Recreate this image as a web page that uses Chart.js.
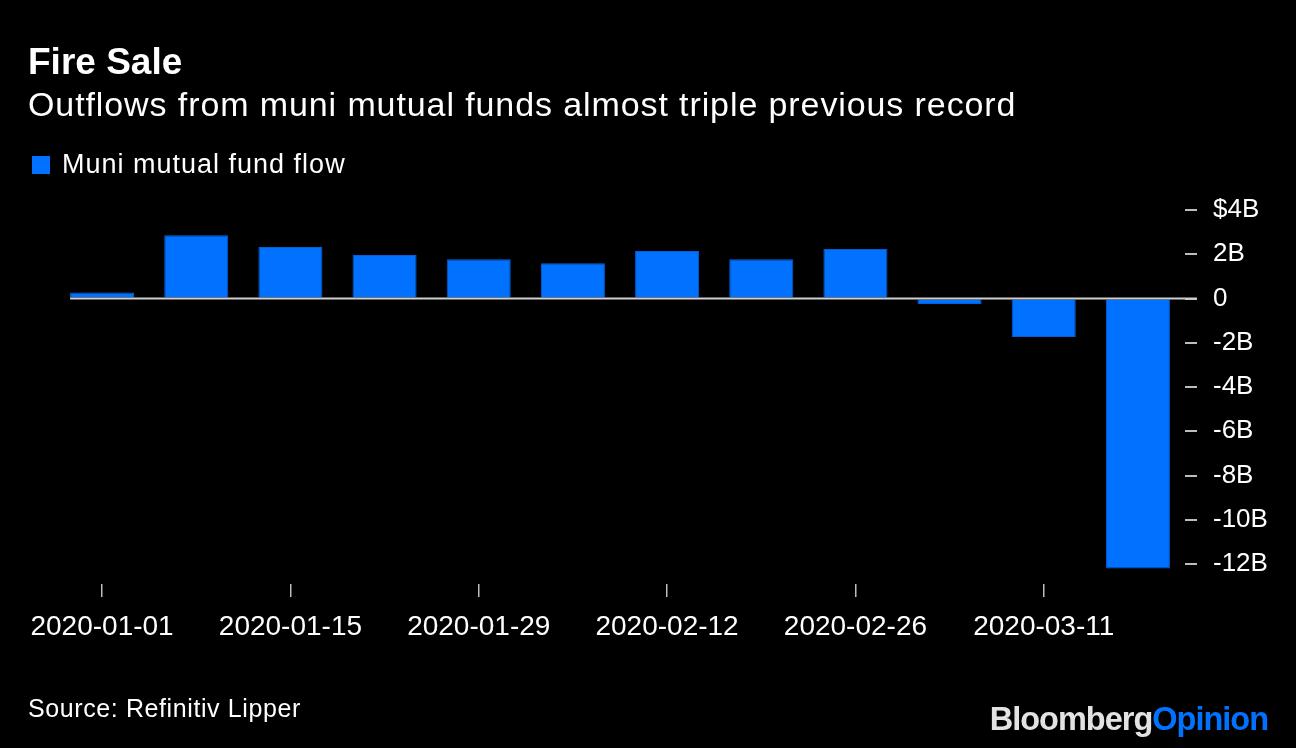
<!DOCTYPE html>
<html>
<head>
<meta charset="utf-8">
<script src="https://cdn.jsdelivr.net/npm/chart.js@4.4.0/dist/chart.umd.min.js"></script>
<style>
  html, body { margin: 0; padding: 0; background: #000; }
  body { width: 1296px; height: 748px; position: relative; overflow: hidden; font-family: "Liberation Sans", Arial, sans-serif; color: #fff; }
  #chart-wrap { position: absolute; left: 0; top: 0; width: 1296px; height: 748px; }
  .titulo { position: absolute; left: 28px; top: 40px; font-size: 37px; font-weight: bold; line-height: 44px; }
  .subtitulo { position: absolute; left: 28px; top: 84px; font-size: 34px; line-height: 40px; letter-spacing: 0.9px; }
  .legenda { position: absolute; left: 32px; top: 148px; font-size: 27px; line-height: 32px; letter-spacing: 1px; }
  .legenda .caixa { display: inline-block; width: 18px; height: 18px; background: #0072ff; margin-right: 12px; vertical-align: -1px; }
  .fonte { position: absolute; left: 28px; top: 693px; font-size: 25px; line-height: 30px; letter-spacing: 0.6px; }
  .logo { position: absolute; right: 28px; top: 700px; font-size: 32.5px; font-weight: bold; line-height: 38px; letter-spacing: -1px; color: #e2e2e2; }
  .logo span { color: #0072ff; }
</style>
</head>
<body>
<div id="chart-wrap"><canvas id="grafico"></canvas></div>
<div class="titulo">Fire Sale</div>
<div class="subtitulo">Outflows from muni mutual funds almost triple previous record</div>
<div class="legenda"><span class="caixa"></span>Muni mutual fund flow</div>
<div class="fonte">Source: Refinitiv Lipper</div>
<div class="logo">Bloomberg<span>Opinion</span></div>
<script>
// semanas (fluxo semanal, em bilhões de dólares)
const semanas = ["2020-01-01", "2020-01-08", "2020-01-15", "2020-01-22", "2020-01-29", "2020-02-05",
  "2020-02-12", "2020-02-19", "2020-02-26", "2020-03-04", "2020-03-11", "2020-03-18"];
const fluxo = [0.27, 2.86, 2.33, 1.97, 1.78, 1.6, 2.15, 1.78, 2.24, -0.24, -1.74, -12.2];
const ticksY = [4, 2, 0, -2, -4, -6, -8, -10, -12];

// linha do zero, começando na primeira barra
const linhaZero = {
  id: "linhaZero",
  afterDatasetsDraw(chart) {
    const y = chart.scales.y.getPixelForValue(0);
    const barra = chart.getDatasetMeta(0).data[0];
    const x0 = barra.x - barra.width / 2;
    const ctx = chart.ctx;
    ctx.save();
    ctx.strokeStyle = "#cfcfcf";
    ctx.lineWidth = 2;
    ctx.beginPath();
    ctx.moveTo(x0, y);
    ctx.lineTo(chart.chartArea.right + 12, y);
    ctx.stroke();
    ctx.restore();
  }
};

const ctx = document.getElementById("grafico").getContext("2d");
new Chart(ctx, {
  type: "bar",
  data: {
    labels: semanas,
    datasets: [{
      label: "Muni mutual fund flow",
      data: fluxo,
      backgroundColor: "#0072ff",
      borderColor: "#0060d8",
      borderWidth: 1,
      barPercentage: 0.68,
      categoryPercentage: 1
    }]
  },
  options: {
    responsive: true,
    maintainAspectRatio: false,
    animation: false,
    layout: { padding: { left: 55, top: 199, right: 0, bottom: 104 } },
    plugins: {
      legend: { display: false },
      tooltip: { enabled: false }
    },
    scales: {
      x: {
        offset: true,
        afterFit: (s) => { s.height = 60; },
        border: { display: false },
        grid: { display: true, drawOnChartArea: false, tickLength: 13, color: "#bdbdbd", lineWidth: 1.5, offset: false },
        ticks: {
          color: "#fff",
          font: { family: "Liberation Sans", size: 28 },
          padding: 13,
          maxRotation: 0,
          autoSkip: false,
          callback: function (v, i) { return i % 2 === 0 ? this.getLabelForValue(v) : null; }
        }
      },
      y: {
        position: "right",
        min: -12.9,
        max: 4.5,
        afterFit: (s) => { s.width = 111; },
        afterBuildTicks: (s) => { s.ticks = ticksY.map(v => ({ value: v })); },
        border: { display: false },
        grid: { display: true, drawOnChartArea: false, tickLength: 12, color: "#bdbdbd", lineWidth: 2 },
        ticks: {
          color: "#fff",
          font: { family: "Liberation Sans", size: 26 },
          padding: 16,
          callback: (v) => v === 4 ? "$4B" : (v === 0 ? "0" : v + "B")
        }
      }
    }
  },
  plugins: [linhaZero]
});
</script>
</body>
</html>
